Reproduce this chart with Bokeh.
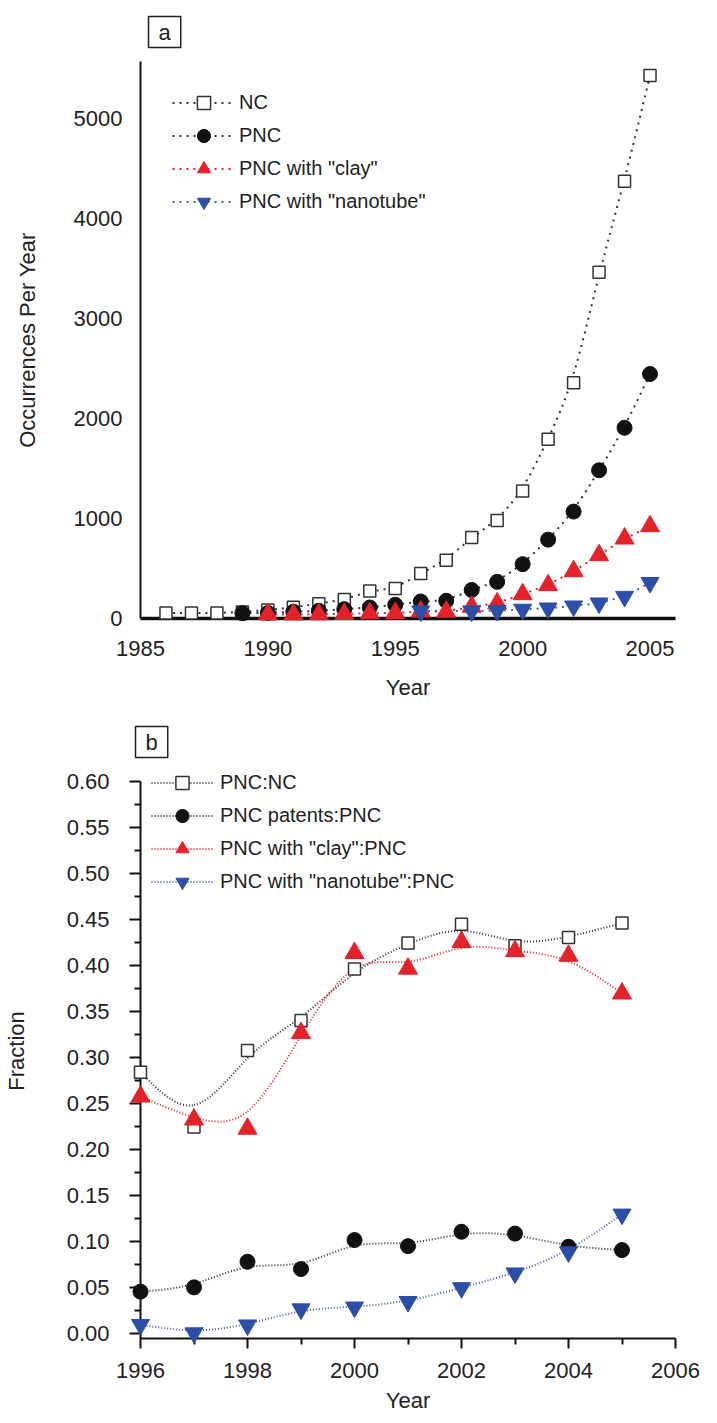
import numpy as np
from bokeh.plotting import figure
from bokeh.models import (FixedTicker, Legend, LegendItem, Range1d,
                          PrintfTickFormatter)
from bokeh.layouts import column
from bokeh.embed import file_html
from bokeh.resources import INLINE

FONT = "Liberation Sans"
TXT = "#222222"

# ---------------- Panel a data (occurrences per year) ----------------
years_nc = list(range(1986, 2006))
nc = [55, 55, 55, 65, 85, 112, 148, 190, 275, 300, 450, 583, 810, 980,
      1275, 1790, 2355, 3460, 4370, 5425]
years_pnc = list(range(1989, 2006))
pnc = [53, 55, 67, 77, 93, 110, 137, 170, 177, 285, 366, 543, 788, 1068,
       1481, 1906, 2443]
years_clay = list(range(1990, 2006))
clay = [40, 40, 42, 45, 52, 55, 70, 68, 118, 151, 243, 333, 473, 633, 799, 922]
years_nano = [1996, 1998, 1999, 2000, 2001, 2002, 2003, 2004, 2005]
nano = [74, 74, 78, 91, 103, 123, 153, 219, 358]

labels_a = ["NC", "PNC", "PNC with \"clay\"", "PNC with \"nanotube\""]
xticks_a = [1985, 1990, 1995, 2000, 2005]
yticks_a = [0, 1000, 2000, 3000, 4000, 5000]

# ---------------- Panel b data (fractions) ----------------
years_b = list(range(1996, 2006))
pnc_nc = [0.2845, 0.225, 0.308, 0.3406, 0.3966, 0.4248, 0.4454, 0.4219, 0.4309, 0.4465]
patents_pnc = [0.0459, 0.0506, 0.0784, 0.0705, 0.102, 0.0954, 0.111, 0.109, 0.0947, 0.0911]
clay_pnc = [0.258, 0.233, 0.223, 0.327, 0.414, 0.397, 0.426, 0.416, 0.411, 0.370]
nano_pnc = [0.010, 0.001, 0.0095, 0.027, 0.029, 0.035, 0.050, 0.066, 0.089, 0.130]

labels_b = ["PNC:NC", "PNC patents:PNC", "PNC with \"clay\":PNC",
            "PNC with \"nanotube\":PNC"]
xticks_b = [1996, 1998, 2000, 2002, 2004, 2006]
xminor_b = [1997, 1999, 2001, 2003, 2005]
yticks_b = [round(0.05 * i, 2) for i in range(13)]
yminor_b = [round(0.025 + 0.05 * i, 3) for i in range(12)]

BLACK_LINE = "#333333"
RED = "#e3222a"
BLUE = "#2d4ea6"
BLUE_LINE = "#4a5da6"


def bspline(xs, ys):
    """Uniform cubic B-spline drawn through the data, as Bezier segments."""
    x = np.asarray(xs, float)
    y = np.asarray(ys, float)
    px = np.concatenate([[2 * x[0] - x[1]], x, [2 * x[-1] - x[-2]]])
    py = np.concatenate([[2 * y[0] - y[1]], y, [2 * y[-1] - y[-2]]])

    def seg(p):
        q0, q1, q2, q3 = p[:-3], p[1:-2], p[2:-1], p[3:]
        return ((q0 + 4 * q1 + q2) / 6, (2 * q1 + q2) / 3,
                (q1 + 2 * q2) / 3, (q1 + 4 * q2 + q3) / 6)

    bx0, bcx0, bcx1, bx1 = seg(px)
    by0, bcy0, bcy1, by1 = seg(py)
    return dict(x0=bx0, y0=by0, x1=bx1, y1=by1, cx0=bcx0, cy0=bcy0,
                cx1=bcx1, cy1=bcy1)


def style_axis(ax, label):
    ax.axis_label = label
    ax.axis_label_text_font = FONT
    ax.axis_label_text_font_size = "22px"
    ax.axis_label_text_font_style = "normal"
    ax.axis_label_text_color = TXT
    ax.major_label_text_font = FONT
    ax.major_label_text_font_size = "22px"
    ax.major_label_text_color = TXT
    ax.axis_line_color = "#111111"


def style_title(p, text, offset, standoff):
    p.title.text = text
    p.title.align = "left"
    p.title.offset = offset
    p.title.standoff = standoff
    p.title.text_font = FONT
    p.title.text_font_size = "22px"
    p.title.text_font_style = "normal"
    p.title.text_color = TXT
    p.title.border_line_color = "#222222"
    p.title.border_line_width = 1.5
    p.title.background_fill_color = "white"
    p.title.padding = (10, 3)


# ======================= Panel a =======================
p1 = figure(width=708, height=705, x_range=Range1d(1985, 2006),
            y_range=Range1d(0, 5566), output_backend="svg",
            toolbar_location=None, min_border_left=124, min_border_right=33,
            min_border_top=60, min_border_bottom=87)
p1.outline_line_color = None
p1.grid.visible = False
p1.background_fill_color = "white"
p1.border_fill_color = "white"
style_title(p1, "a", 8, 28)

style_axis(p1.xaxis[0], "Year")
p1.xaxis.ticker = FixedTicker(ticks=xticks_a, minor_ticks=[])
p1.xaxis.axis_line_width = 3.5
p1.xaxis.major_tick_line_color = None
p1.xaxis.minor_tick_line_color = None
p1.xaxis.major_tick_out = 0
p1.xaxis.major_tick_in = 0
p1.xaxis.major_label_standoff = 22
p1.xaxis.axis_label_standoff = 16

style_axis(p1.yaxis[0], "Occurrences Per Year")
p1.yaxis.ticker = FixedTicker(ticks=yticks_a, minor_ticks=[])
p1.yaxis.axis_line_width = 2
p1.yaxis.major_tick_line_color = None
p1.yaxis.minor_tick_line_color = None
p1.yaxis.major_tick_out = 0
p1.yaxis.major_tick_in = 0
p1.yaxis.major_label_standoff = 18
p1.yaxis.axis_label_standoff = 31

series_a = [
    (years_nc, nc, BLACK_LINE, dict(marker="square", size=12, fill_color="white",
                                    line_color="#333333", line_width=1.5)),
    (years_pnc, pnc, BLACK_LINE, dict(marker="circle", size=15, fill_color="#111111",
                                      line_color="#111111")),
    (years_clay, clay, RED, dict(marker="triangle", size=19, fill_color=RED,
                                 line_color=RED)),
    (years_nano, nano, BLUE_LINE, dict(marker="inverted_triangle", size=18,
                                       fill_color=BLUE, line_color=BLUE)),
]
items_a = []
for (xs, ys, lc, mk), lab in zip(series_a, labels_a):
    lr = p1.bezier(**bspline(xs, ys), line_color=lc, line_width=2, line_dash="2 5")
    sr = p1.scatter(xs, ys, level="overlay", **mk)
    items_a.append(LegendItem(label=lab, renderers=[lr, sr]))

leg_a = Legend(items=items_a, location=(32, 400), glyph_width=63, glyph_height=33,
               label_height=33, spacing=0, padding=0, margin=0, label_standoff=4,
               label_text_font=FONT, label_text_font_size="20px",
               label_text_color=TXT, border_line_color=None,
               background_fill_alpha=0)
p1.add_layout(leg_a)

# ======================= Panel b =======================
y_start_b = -0.005
p2 = figure(width=708, height=710, x_range=Range1d(1996, 2006),
            y_range=Range1d(y_start_b, 0.62), output_backend="svg",
            toolbar_location=None, min_border_left=136, min_border_right=24,
            min_border_top=58, min_border_bottom=76)
p2.outline_line_color = None
p2.grid.visible = False
p2.background_fill_color = "white"
p2.border_fill_color = "white"
style_title(p2, "b", -5, 12)

style_axis(p2.xaxis[0], "Year")
p2.xaxis.ticker = FixedTicker(ticks=xticks_b, minor_ticks=xminor_b)
p2.xaxis.axis_line_width = 2
p2.xaxis.major_tick_out = 10
p2.xaxis.major_tick_in = 0
p2.xaxis.minor_tick_out = 6
p2.xaxis.minor_tick_in = 0
p2.xaxis.major_tick_line_width = 2
p2.xaxis.minor_tick_line_width = 2
p2.xaxis.major_tick_line_color = "#111111"
p2.xaxis.minor_tick_line_color = "#111111"
p2.xaxis.major_label_standoff = 14
p2.xaxis.axis_label_standoff = 7

style_axis(p2.yaxis[0], "Fraction")
p2.yaxis.ticker = FixedTicker(ticks=yticks_b, minor_ticks=yminor_b)
p2.yaxis.formatter = PrintfTickFormatter(format="%.2f")
p2.yaxis.bounds = (y_start_b, yticks_b[-1])
p2.yaxis.axis_line_width = 2
p2.yaxis.major_tick_out = 11
p2.yaxis.major_tick_in = 0
p2.yaxis.minor_tick_out = 6
p2.yaxis.minor_tick_in = 0
p2.yaxis.major_tick_line_width = 2
p2.yaxis.minor_tick_line_width = 2
p2.yaxis.major_tick_line_color = "#111111"
p2.yaxis.minor_tick_line_color = "#111111"
p2.yaxis.major_label_standoff = 20
p2.yaxis.axis_label_standoff = 35

series_b = [
    (pnc_nc, BLACK_LINE, dict(marker="square", size=12, fill_color="white",
                              line_color="#333333", line_width=1.5)),
    (patents_pnc, BLACK_LINE, dict(marker="circle", size=15, fill_color="#111111",
                                   line_color="#111111")),
    (clay_pnc, RED, dict(marker="triangle", size=19, fill_color=RED, line_color=RED)),
    (nano_pnc, BLUE_LINE, dict(marker="inverted_triangle", size=18,
                               fill_color=BLUE, line_color=BLUE)),
]
items_b = []
for (ys, lc, mk), lab in zip(series_b, labels_b):
    lr = p2.bezier(**bspline(years_b, ys), line_color=lc, line_width=2, line_dash="1 2")
    sr = p2.scatter(years_b, ys, level="overlay", **mk)
    items_b.append(LegendItem(label=lab, renderers=[lr, sr]))

leg_b = Legend(items=items_b, location=(11, 440), glyph_width=62, glyph_height=33,
               label_height=33, spacing=0, padding=0, margin=0, label_standoff=7,
               label_text_font=FONT, label_text_font_size="20px",
               label_text_color=TXT, border_line_color=None,
               background_fill_alpha=0)
p2.add_layout(leg_b)

layout = column(p1, p2)
open("out.html", "w").write(file_html(layout, INLINE))
